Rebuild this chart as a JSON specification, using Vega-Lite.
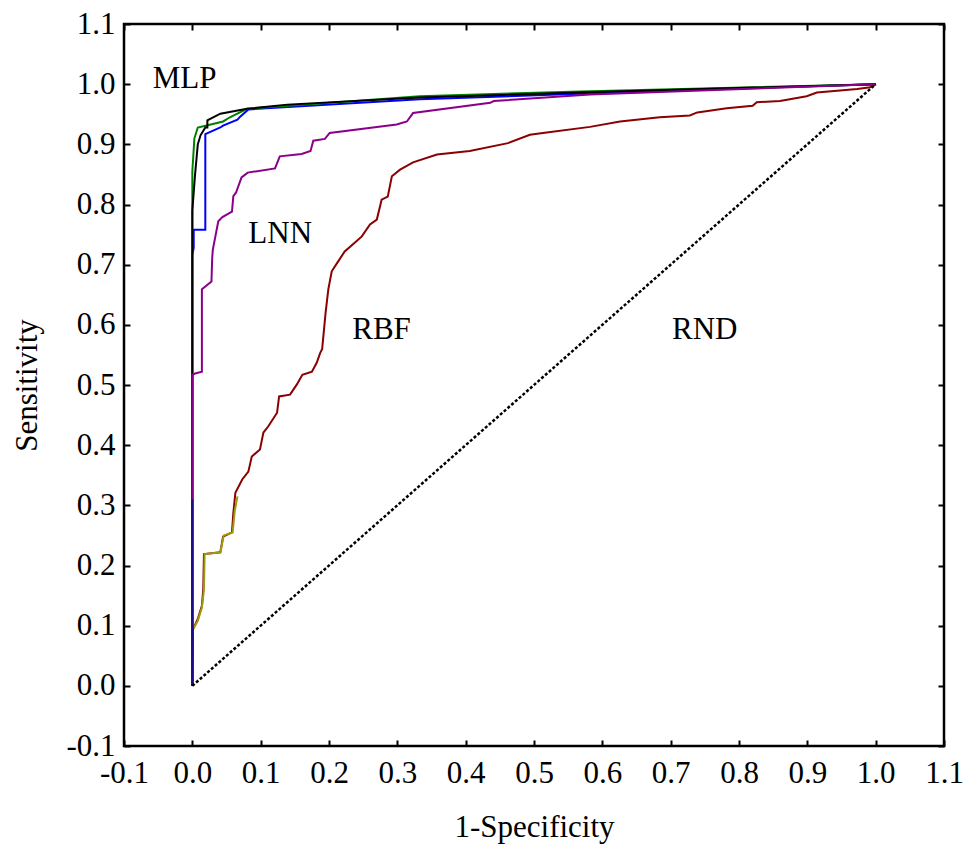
{
  "$schema": "https://vega.github.io/schema/vega-lite/v6.json",
  "width": 820,
  "height": 722,
  "autosize": "none",
  "padding": {"left": 124, "top": 24, "right": 19, "bottom": 104},
  "background": "white",
  "config": {
    "view": {"stroke": "black", "strokeWidth": 2.5},
    "axis": {
      "domain": false,
      "grid": false,
      "ticks": true,
      "tickSize": -6,
      "tickWidth": 2,
      "tickColor": "black",
      "labelFont": "Liberation Serif",
      "labelFontSize": 31,
      "labelColor": "black",
      "labelOverlap": false,
      "labelFlush": false,
      "titleFont": "Liberation Serif",
      "titleFontSize": 31,
      "titleFontWeight": "normal",
      "titleColor": "black"
    }
  },
  "datasets": {
    "red": [
      {"x": 0, "y": 0}, {"x": 0.001, "y": 0.094}, {"x": 0.008, "y": 0.111}, {"x": 0.014, "y": 0.133}, {"x": 0.016, "y": 0.161},
      {"x": 0.017, "y": 0.219}, {"x": 0.041, "y": 0.222}, {"x": 0.045, "y": 0.248}, {"x": 0.058, "y": 0.255}, {"x": 0.06, "y": 0.287},
      {"x": 0.063, "y": 0.321}, {"x": 0.073, "y": 0.343}, {"x": 0.082, "y": 0.356}, {"x": 0.087, "y": 0.381}, {"x": 0.099, "y": 0.393},
      {"x": 0.104, "y": 0.421}, {"x": 0.111, "y": 0.431}, {"x": 0.124, "y": 0.454}, {"x": 0.127, "y": 0.481}, {"x": 0.143, "y": 0.484},
      {"x": 0.153, "y": 0.501}, {"x": 0.161, "y": 0.517}, {"x": 0.175, "y": 0.522}, {"x": 0.182, "y": 0.537}, {"x": 0.187, "y": 0.553},
      {"x": 0.19, "y": 0.56}, {"x": 0.195, "y": 0.62}, {"x": 0.199, "y": 0.659}, {"x": 0.204, "y": 0.689}, {"x": 0.212, "y": 0.703},
      {"x": 0.223, "y": 0.722}, {"x": 0.238, "y": 0.737}, {"x": 0.248, "y": 0.747}, {"x": 0.26, "y": 0.767}, {"x": 0.27, "y": 0.775},
      {"x": 0.277, "y": 0.808}, {"x": 0.286, "y": 0.813}, {"x": 0.292, "y": 0.847}, {"x": 0.304, "y": 0.858}, {"x": 0.323, "y": 0.87},
      {"x": 0.358, "y": 0.883}, {"x": 0.406, "y": 0.889}, {"x": 0.462, "y": 0.902}, {"x": 0.494, "y": 0.916}, {"x": 0.513, "y": 0.919},
      {"x": 0.582, "y": 0.929}, {"x": 0.626, "y": 0.938}, {"x": 0.684, "y": 0.945}, {"x": 0.728, "y": 0.948}, {"x": 0.739, "y": 0.953},
      {"x": 0.782, "y": 0.96}, {"x": 0.82, "y": 0.964}, {"x": 0.826, "y": 0.97}, {"x": 0.86, "y": 0.972}, {"x": 0.899, "y": 0.98},
      {"x": 0.914, "y": 0.986}, {"x": 0.973, "y": 0.992}, {"x": 0.992, "y": 0.995}, {"x": 1, "y": 1}
    ],
    "olive": [
      {"x": 0.001, "y": 0.094}, {"x": 0.008, "y": 0.108}, {"x": 0.014, "y": 0.13}, {"x": 0.017, "y": 0.16}, {"x": 0.018, "y": 0.219},
      {"x": 0.041, "y": 0.222}, {"x": 0.046, "y": 0.25}, {"x": 0.059, "y": 0.255}, {"x": 0.062, "y": 0.29}, {"x": 0.066, "y": 0.315}
    ],
    "blue": [
      {"x": 0, "y": 0}, {"x": 0, "y": 0.717}, {"x": 0.002, "y": 0.728}, {"x": 0.002, "y": 0.758}, {"x": 0.019, "y": 0.758},
      {"x": 0.019, "y": 0.917}, {"x": 0.041, "y": 0.928}, {"x": 0.045, "y": 0.931}, {"x": 0.066, "y": 0.941}, {"x": 0.07, "y": 0.946},
      {"x": 0.082, "y": 0.958}, {"x": 0.333, "y": 0.975}, {"x": 0.567, "y": 0.984}, {"x": 1, "y": 1}
    ],
    "green": [
      {"x": 0, "y": 0}, {"x": 0, "y": 0.855}, {"x": 0.003, "y": 0.91}, {"x": 0.008, "y": 0.928}, {"x": 0.027, "y": 0.933},
      {"x": 0.045, "y": 0.938}, {"x": 0.055, "y": 0.945}, {"x": 0.08, "y": 0.959}, {"x": 0.333, "y": 0.98}, {"x": 0.567, "y": 0.988},
      {"x": 1, "y": 1}
    ],
    "black": [
      {"x": 0, "y": 0}, {"x": 0, "y": 0.79}, {"x": 0.004, "y": 0.85}, {"x": 0.008, "y": 0.9}, {"x": 0.012, "y": 0.915},
      {"x": 0.019, "y": 0.928}, {"x": 0.022, "y": 0.928}, {"x": 0.022, "y": 0.94}, {"x": 0.041, "y": 0.951}, {"x": 0.08, "y": 0.959},
      {"x": 0.139, "y": 0.966}, {"x": 0.333, "y": 0.978}, {"x": 0.567, "y": 0.986}, {"x": 1, "y": 1}
    ],
    "purple": [
      {"x": 0, "y": 0}, {"x": 0, "y": 0.517}, {"x": 0.004, "y": 0.519}, {"x": 0.014, "y": 0.522}, {"x": 0.014, "y": 0.659},
      {"x": 0.028, "y": 0.672}, {"x": 0.029, "y": 0.709}, {"x": 0.03, "y": 0.725}, {"x": 0.038, "y": 0.772}, {"x": 0.044, "y": 0.779},
      {"x": 0.058, "y": 0.788}, {"x": 0.06, "y": 0.814}, {"x": 0.064, "y": 0.82}, {"x": 0.072, "y": 0.845}, {"x": 0.081, "y": 0.853},
      {"x": 0.121, "y": 0.86}, {"x": 0.128, "y": 0.88}, {"x": 0.16, "y": 0.884}, {"x": 0.173, "y": 0.889}, {"x": 0.177, "y": 0.906},
      {"x": 0.194, "y": 0.909}, {"x": 0.201, "y": 0.919}, {"x": 0.299, "y": 0.933}, {"x": 0.314, "y": 0.938}, {"x": 0.323, "y": 0.952},
      {"x": 0.436, "y": 0.969}, {"x": 0.441, "y": 0.972}, {"x": 0.582, "y": 0.983}, {"x": 1, "y": 1}
    ],
    "navy": [
      {"x": 0, "y": 0}, {"x": 0, "y": 0.31}
    ],
    "rnd": [
      {"x": 0, "y": 0}, {"x": 1, "y": 1}
    ],
    "labels": [
      {"x": -0.058, "y": 0.994, "label": "MLP"},
      {"x": 0.082, "y": 0.736, "label": "LNN"},
      {"x": 0.234, "y": 0.577, "label": "RBF"},
      {"x": 0.702, "y": 0.577, "label": "RND"}
    ]
  },
  "resolve": {"axis": {"x": "independent", "y": "independent"}},
  "layer": [
    {
      "data": {"name": "red"},
      "mark": {"type": "line", "color": "#8b0000", "strokeWidth": 2},
      "encoding": {
        "x": {"field": "x", "type": "quantitative", "scale": {"domain": [-0.1, 1.1], "nice": false, "zero": false},
              "axis": {"orient": "bottom", "title": "1-Specificity", "values": [-0.1, 0, 0.1, 0.2, 0.3, 0.4, 0.5, 0.6, 0.7, 0.8, 0.9, 1.0, 1.1],
                       "labelExpr": "replace(format(datum.value, '.1f'), '\u2212', '-')", "labelPadding": 18, "titlePadding": 24}},
        "y": {"field": "y", "type": "quantitative", "scale": {"domain": [-0.1, 1.1], "nice": false, "zero": false},
              "axis": {"orient": "left", "title": "Sensitivity", "values": [-0.1, 0, 0.1, 0.2, 0.3, 0.4, 0.5, 0.6, 0.7, 0.8, 0.9, 1.0, 1.1],
                       "labelExpr": "replace(format(datum.value, '.1f'), '\u2212', '-')", "labelPadding": 15, "titlePadding": 22}},
        "order": {"value": null}
      }
    },
    {
      "data": {"name": "olive"},
      "mark": {"type": "line", "color": "#9c9c10", "strokeWidth": 2},
      "encoding": {
        "x": {"field": "x", "type": "quantitative", "axis": null},
        "y": {"field": "y", "type": "quantitative", "axis": null},
        "order": {"value": null}
      }
    },
    {
      "data": {"name": "blue"},
      "mark": {"type": "line", "color": "#0000ff", "strokeWidth": 2},
      "encoding": {
        "x": {"field": "x", "type": "quantitative", "axis": null},
        "y": {"field": "y", "type": "quantitative", "axis": null},
        "order": {"value": null}
      }
    },
    {
      "data": {"name": "green"},
      "mark": {"type": "line", "color": "#008000", "strokeWidth": 2},
      "encoding": {
        "x": {"field": "x", "type": "quantitative", "axis": null},
        "y": {"field": "y", "type": "quantitative", "axis": null},
        "order": {"value": null}
      }
    },
    {
      "data": {"name": "black"},
      "mark": {"type": "line", "color": "#000000", "strokeWidth": 2},
      "encoding": {
        "x": {"field": "x", "type": "quantitative", "axis": null},
        "y": {"field": "y", "type": "quantitative", "axis": null},
        "order": {"value": null}
      }
    },
    {
      "data": {"name": "purple"},
      "mark": {"type": "line", "color": "#8b008b", "strokeWidth": 2},
      "encoding": {
        "x": {"field": "x", "type": "quantitative", "axis": null},
        "y": {"field": "y", "type": "quantitative", "axis": null},
        "order": {"value": null}
      }
    },
    {
      "data": {"name": "navy"},
      "mark": {"type": "line", "color": "#1c0c8c", "strokeWidth": 2},
      "encoding": {
        "x": {"field": "x", "type": "quantitative", "axis": null},
        "y": {"field": "y", "type": "quantitative", "axis": null},
        "order": {"value": null}
      }
    },
    {
      "data": {"name": "rnd"},
      "mark": {"type": "line", "color": "#000000", "strokeWidth": 2.5, "strokeDash": [3, 2]},
      "encoding": {
        "x": {"field": "x", "type": "quantitative",
              "axis": {"orient": "top", "title": null, "labels": false, "values": [-0.1, 0, 0.1, 0.2, 0.3, 0.4, 0.5, 0.6, 0.7, 0.8, 0.9, 1.0, 1.1]}},
        "y": {"field": "y", "type": "quantitative",
              "axis": {"orient": "right", "title": null, "labels": false, "values": [-0.1, 0, 0.1, 0.2, 0.3, 0.4, 0.5, 0.6, 0.7, 0.8, 0.9, 1.0, 1.1]}},
        "order": {"value": null}
      }
    },
    {
      "data": {"name": "labels"},
      "mark": {"type": "text", "font": "Liberation Serif", "fontSize": 31, "align": "left", "baseline": "alphabetic", "color": "black"},
      "encoding": {
        "x": {"field": "x", "type": "quantitative", "axis": null},
        "y": {"field": "y", "type": "quantitative", "axis": null},
        "text": {"field": "label"}
      }
    }
  ]
}
